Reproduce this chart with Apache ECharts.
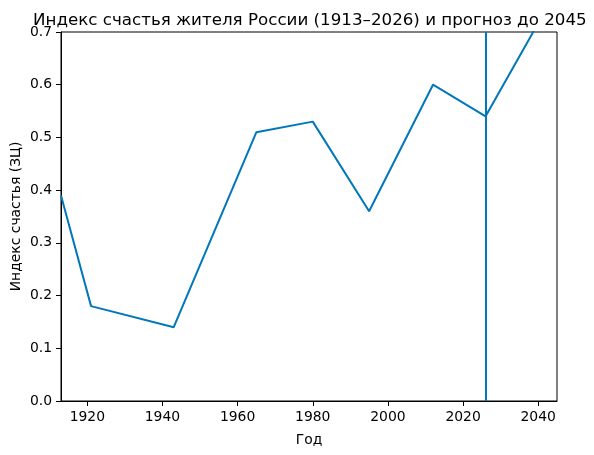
<!DOCTYPE html>
<html>
<head>
<meta charset="utf-8">
<script src="https://cdn.jsdelivr.net/npm/echarts@6/dist/echarts.min.js"></script>
<style>
html,body{margin:0;padding:0;background:#fff;}
#chart{width:594px;height:455px;}
</style>
</head>
<body>
<div id="chart"></div>
<script>
const years = [1913, 1921, 1943, 1965, 1980, 1995, 2012, 2026, 2045];
const happiness = [0.39, 0.18, 0.14, 0.51, 0.53, 0.36, 0.60, 0.54, 0.78];
const markerYear = 2026;
const xTicks = [1920, 1940, 1960, 1980, 2000, 2020, 2040];
const titleText = 'Индекс счастья жителя России (1913–2026) и прогноз до 2045';
const xName = 'Год';
const yName = 'Индекс счастья (ЗЦ)';

const color = '#0077BB';
const font = 'DejaVu Sans';
const chart = echarts.init(document.getElementById('chart'), null, {renderer: 'canvas'});
chart.setOption({
  animation: false,
  backgroundColor: '#fff',
  title: {
    text: titleText,
    left: 33, top: 12, padding: 0,
    textStyle: {fontFamily: font, fontSize: 16.7, fontWeight: 'normal', color: '#000'}
  },
  grid: {left: 61, right: 37, top: 32, bottom: 54, outerBoundsMode: 'none', containLabel: false,
         show: true, borderColor: '#000', borderWidth: 1, backgroundColor: 'transparent'},
  xAxis: {
    type: 'value', min: 1913, max: 2045,
    name: xName, nameLocation: 'middle', nameGap: 32, nameMoveOverlap: false,
    nameTextStyle: {fontFamily: font, fontSize: 13.9, color: '#000'},
    axisLine: {show: true, onZero: false, lineStyle: {color: '#000', width: 1}},
    axisTick: {show: true, length: 5, customValues: xTicks, lineStyle: {color: '#000'}},
    axisLabel: {customValues: xTicks, margin: 9, fontFamily: font, fontSize: 13.9, color: '#000', formatter: v => String(v)},
    splitLine: {show: false}
  },
  yAxis: {
    type: 'value', min: 0, max: 0.7, interval: 0.1,
    name: yName, nameLocation: 'middle', nameGap: 38, nameMoveOverlap: false,
    nameTextStyle: {fontFamily: font, fontSize: 13.9, color: '#000'},
    axisLine: {show: true, onZero: false, lineStyle: {color: '#000', width: 1}},
    axisTick: {show: true, length: 5, lineStyle: {color: '#000'}},
    axisLabel: {margin: 9, fontFamily: font, fontSize: 13.9, color: '#000', formatter: v => v.toFixed(1)},
    splitLine: {show: false}
  },
  series: [{
    type: 'line',
    data: years.map((y, i) => [y, happiness[i]]),
    showSymbol: false,
    clip: true,
    lineStyle: {color: color, width: 2},
    itemStyle: {color: color},
    markLine: {
      silent: true, symbol: ['none', 'none'],
      label: {show: false},
      lineStyle: {color: color, width: 2, type: 'solid'},
      data: [{xAxis: markerYear}]
    }
  }]
});
</script>
</body>
</html>
